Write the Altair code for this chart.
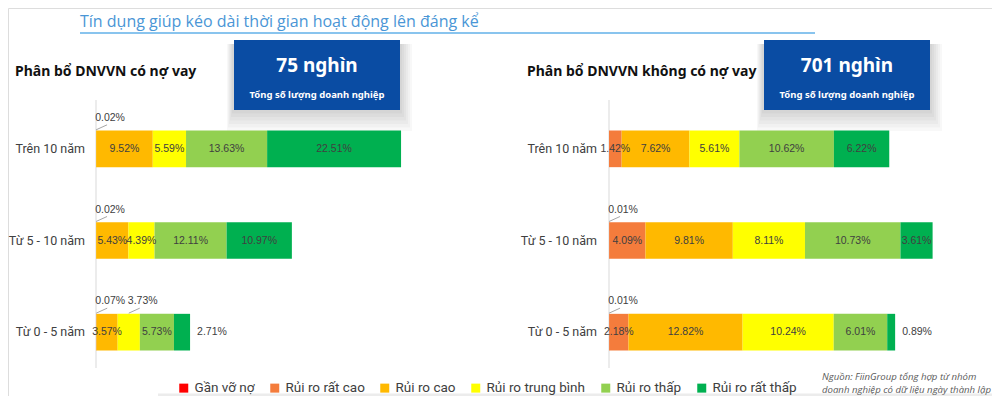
import altair as alt
import pandas as pd

rows = ["Trên 10 năm", "Từ 5 - 10 năm", "Từ 0 - 5 năm"]
risk_levels = ["Gần vỡ nợ", "Rủi ro rất cao", "Rủi ro cao", "Rủi ro trung bình", "Rủi ro thấp", "Rủi ro rất thấp"]
risk_colors = ["#ff0000", "#f47c3c", "#ffb900", "#ffff00", "#92d050", "#00b050"]

# % of firms per risk level, one list per row (same order as rows)
co_no_vay = [
    [0, 0.02, 9.52, 5.59, 13.63, 22.51],
    [0, 0.02, 5.43, 4.39, 12.11, 10.97],
    [0, 0.07, 3.57, 3.73, 5.73, 2.71],
]
khong_no_vay = [
    [0, 1.42, 7.62, 5.61, 10.62, 6.22],
    [0.01, 4.09, 9.81, 8.11, 10.73, 3.61],
    [0.01, 2.18, 12.82, 10.24, 6.01, 0.89],
]
totals = ["75 nghìn", "701 nghìn"]
subtitles = ["Phân bổ DNVVN có nợ vay", "Phân bổ DNVVN không có nợ vay"]

# data labels that sit outside the bar
above_labels = [("co", "Từ 0 - 5 năm", "Rủi ro trung bình")]
right_labels = [("co", "Từ 0 - 5 năm", "Rủi ro rất thấp"), ("khong", "Từ 0 - 5 năm", "Rủi ro rất thấp")]

FONT = "Liberation Sans"
GREY = "#404040"


def segments(panel, values):
    recs = []
    for row, vals in zip(rows, values):
        start = 0
        for cat, v in zip(risk_levels, vals):
            if v > 0:
                pos = "in"
                if v < 0.5 or (panel, row, cat) in above_labels:
                    pos = "above"
                elif (panel, row, cat) in right_labels:
                    pos = "right"
                recs.append(dict(row=row, risk=cat, start=start, end=start + v,
                                 mid=start + v / 2, label=f"{v:.2f}%", pos=pos))
            start += v
    return pd.DataFrame(recs)


y_scale = alt.Scale(domain=rows, range=[95, 370], paddingInner=0.6, paddingOuter=0.3)
y_enc = alt.Y("row:N", sort=rows, scale=y_scale, axis=None)
color_enc = alt.Color(
    "risk:N", sort=risk_levels,
    scale=alt.Scale(domain=risk_levels, range=risk_colors),
    legend=alt.Legend(orient="none", legendX=169, legendY=373, direction="horizontal",
                      title=None, symbolType="square", symbolSize=81, symbolStrokeWidth=0,
                      labelFontSize=13.5, labelFont="Roboto", labelColor=GREY,
                      labelOffset=4, columnPadding=13),
)


def panel(df, x_scale, label_x):
    base = alt.Chart(df)
    xs = alt.X("start:Q", scale=x_scale, axis=None)
    bars = base.mark_bar().encode(x=xs, x2="end:Q", y=y_enc, color=color_enc)
    inside = base.transform_filter(alt.datum.pos == "in").mark_text(
        fontSize=10.5, font=FONT, color=GREY
    ).encode(x=alt.X("mid:Q", scale=x_scale, axis=None), y=y_enc, text="label:N")
    above = base.transform_filter(alt.datum.pos == "above")
    above_txt = above.mark_text(fontSize=10.5, font=FONT, color=GREY, dx=14, dy=-31).encode(
        x=alt.X("mid:Q", scale=x_scale, axis=None), y=y_enc, text="label:N")
    leader = above.mark_rule(color="#a6a6a6", x2Offset=11, yOffset=-19, y2Offset=-24).encode(
        x=alt.X("mid:Q", scale=x_scale, axis=None), x2="mid:Q", y=y_enc, y2="row:N")
    right_txt = base.transform_filter(alt.datum.pos == "right").mark_text(
        fontSize=10.5, font=FONT, color=GREY, align="left", dx=7
    ).encode(x=alt.X("end:Q", scale=x_scale, axis=None), y=y_enc, text="label:N")
    row_lbl = alt.Chart(pd.DataFrame({"row": rows})).mark_text(
        align="right", fontSize=12.5, font="Roboto", color=GREY
    ).encode(x=alt.value(label_x), y=y_enc, text="row:N")
    axis_line = alt.Chart(pd.DataFrame({"a": [0]})).mark_rule(color="#d9d9d9").encode(
        x=alt.X(datum=0, scale=x_scale, axis=None), y=alt.value(92), y2=alt.value(360))
    return [axis_line, bars, inside, leader, above_txt, right_txt, row_lbl]


def one(text):
    return alt.Chart(pd.DataFrame({"t": [text]}))


def card(x0, x1, total, subtitle, sub_x):
    layers = []
    for i in range(1, 7):
        layers.append(one("").mark_rect(color="#000000", opacity=0.028).encode(
            x=alt.value(x0 - 1 - i), x2=alt.value(x1 + 2 * i), y=alt.value(36),
            y2=alt.value(102 + 3.5 * i)))
    layers.append(one("").mark_rect(color="#0a4ca3").encode(
        x=alt.value(x0), x2=alt.value(x1), y=alt.value(32), y2=alt.value(102)))
    cx = (x0 + x1) / 2
    layers.append(one(total).mark_text(font="Noto Sans", fontWeight="bold", fontSize=19,
                                       color="white").encode(x=alt.value(cx), y=alt.value(58), text="t:N"))
    layers.append(one("Tổng số lượng doanh nghiệp").mark_text(
        font="Noto Sans", fontWeight="bold", fontSize=9.5, color="white"
    ).encode(x=alt.value(cx), y=alt.value(87), text="t:N"))
    layers.append(one(subtitle).mark_text(font="Noto Sans", fontWeight="bold", fontSize=14,
                                          color="#111111", align="left").encode(
        x=alt.value(sub_x), y=alt.value(64), text="t:N"))
    return layers


left = panel(segments("co", co_no_vay), alt.Scale(domain=[0, 60], range=[88, 445]), 77)
right = panel(segments("khong", khong_no_vay), alt.Scale(domain=[0, 40], range=[601, 957]), 589)

title = one("Tín dụng giúp kéo dài thời gian hoạt động lên đáng kể").mark_text(
    font="Open Sans", fontSize=16, color="#4a96d6", align="left", baseline="alphabetic"
).encode(x=alt.value(72), y=alt.value(19), text="t:N")
underline = one("").mark_rule(color="#62b0e8", strokeWidth=1.5).encode(
    x=alt.value(72), x2=alt.value(807), y=alt.value(25))
source = one("Nguồn: FiinGroup tổng hợp từ nhóm\ndoanh nghiệp có dữ liệu ngày thành lập").mark_text(
    font="Open Sans", fontStyle="italic", fontSize=9.6, color="#595959", align="left",
    baseline="alphabetic", lineBreak="\n", lineHeight=12.5
).encode(x=alt.value(814), y=alt.value(372), text="t:N")
bottom = one("").mark_rule(color="#ececec", strokeWidth=3).encode(
    x=alt.value(150), x2=alt.value(984), y=alt.value(387))

layers = ([title, underline]
          + card(226, 392, totals[0], subtitles[0], 7)
          + card(756, 922, totals[1], subtitles[1], 519)
          + left + right + [bottom, source])

chart = alt.layer(*layers).resolve_scale(x="independent").properties(
    width=984, height=388, padding=0, autosize=alt.AutoSizeParams(type="none")
).configure_view(stroke=None).configure(background="white")

chart.save("out.html", embed_options={"renderer": "svg", "actions": False})
